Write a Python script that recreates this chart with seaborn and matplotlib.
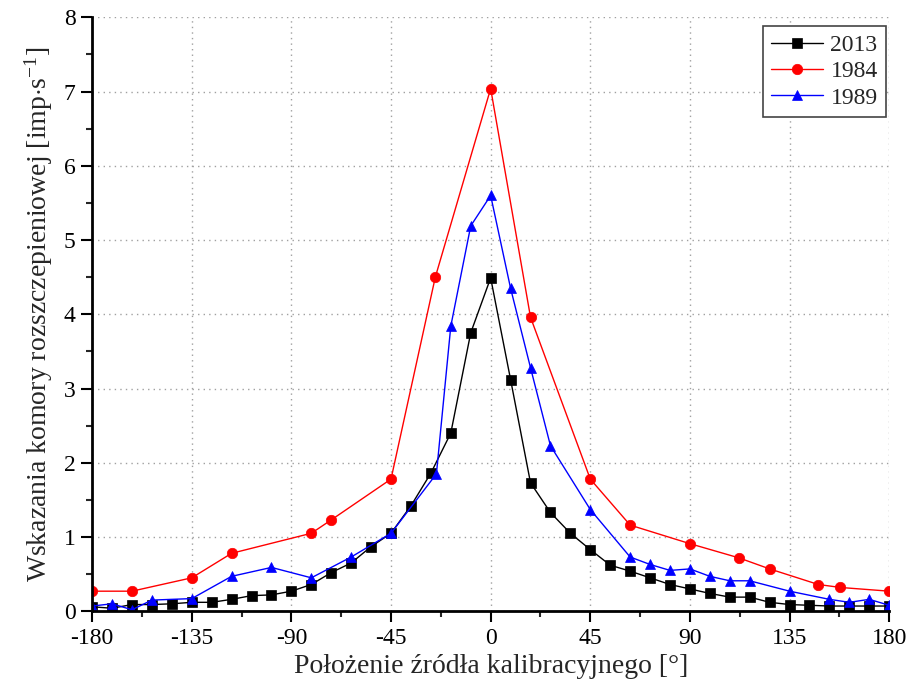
import numpy as np
import pandas as pd
import matplotlib
matplotlib.use("Agg")
import matplotlib.pyplot as plt
from matplotlib.ticker import MultipleLocator
import seaborn as sns

# ---- data ----
x_2013 = [-180, -171, -162, -153, -144, -135, -126, -117, -108, -99, -90, -81, -72, -63, -54,
          -45, -36, -27, -18, -9, 0, 9, 18, 27, 36, 45, 54, 63, 72, 81, 90, 99, 108, 117,
          126, 135, 144, 153, 162, 171, 180]
y_2013 = [0.06, 0.04, 0.09, 0.09, 0.10, 0.12, 0.12, 0.16, 0.21, 0.22, 0.27, 0.36, 0.52, 0.65, 0.87,
          1.05, 1.42, 1.86, 2.40, 3.75, 4.49, 3.12, 1.73, 1.33, 1.05, 0.83, 0.62, 0.54, 0.45, 0.36,
          0.30, 0.24, 0.19, 0.19, 0.12, 0.09, 0.08, 0.07, 0.07, 0.07, 0.07]

x_1984 = [-180, -162, -135, -117, -81, -72, -45, -25, 0, 18, 45, 63, 90, 112, 126, 148, 158, 180]
y_1984 = [0.27, 0.27, 0.45, 0.78, 1.05, 1.23, 1.78, 4.50, 7.04, 3.96, 1.78, 1.16, 0.91, 0.72,
          0.57, 0.36, 0.32, 0.27]

x_1989 = [-180, -171, -162, -153, -135, -117, -99, -81, -63, -45, -24.5, -18, -9, 0, 9, 18, 27,
          45, 63, 72, 81, 90, 99, 108, 117, 135, 153, 162, 171, 180]
y_1989 = [0.07, 0.10, 0.02, 0.15, 0.17, 0.47, 0.59, 0.45, 0.73, 1.05, 1.85, 3.84, 5.19, 5.60,
          4.35, 3.28, 2.23, 1.37, 0.73, 0.63, 0.55, 0.57, 0.47, 0.41, 0.41, 0.27, 0.16, 0.12,
          0.16, 0.08]

series_names = ["2013", "1984", "1989"]
x_ticks = [-180, -135, -90, -45, 0, 45, 90, 135, 180]
y_ticks = [0, 1, 2, 3, 4, 5, 6, 7, 8]

xlabel = "Położenie źródła kalibracyjnego [°]"
ylabel = r"Wskazania komory rozszczepieniowej [imp$\cdot$s$^{\mathregular{-1}}$]"

# ---- style ----
sns.set_style("white")
plt.rcParams["font.family"] = ["Liberation Serif", "DejaVu Serif"]
plt.rcParams["mathtext.fontset"] = "custom"
plt.rcParams["mathtext.rm"] = "Liberation Serif"
plt.rcParams["mathtext.it"] = "Liberation Serif:italic"
plt.rcParams["mathtext.bf"] = "Liberation Serif:bold"

fig = plt.figure(figsize=(9.12, 6.93), dpi=100)
ax = fig.add_axes([0.101, 0.118, 0.874, 0.857])

styles = {
    "2013": dict(color="black", marker="s", ms=6.5),
    "1984": dict(color="#ff0000", marker="o", ms=7.5),
    "1989": dict(color="#0000ff", marker="^", ms=7.5),
}
data = {"2013": (x_2013, y_2013), "1984": (x_1984, y_1984), "1989": (x_1989, y_1989)}

for name in series_names:
    xs, ys = data[name]
    df = pd.DataFrame({"x": xs, "y": ys})
    st = styles[name]
    sns.lineplot(data=df, x="x", y="y", ax=ax, color=st["color"], marker=st["marker"],
                 markersize=st["ms"], markeredgecolor=st["color"], markeredgewidth=0.5,
                 linewidth=1.0, label=name, estimator=None, sort=True)

ax.set_xlim(-180, 180)
ax.set_ylim(0, 8)
ax.set_xticks(x_ticks)
ax.set_yticks(y_ticks)
ax.set_xticklabels([str(t) for t in x_ticks])
ax.set_yticklabels([str(t) for t in y_ticks])
ax.xaxis.set_minor_locator(MultipleLocator(22.5))
ax.yaxis.set_minor_locator(MultipleLocator(0.5))
ax.tick_params(axis="both", which="major", direction="out", length=8, width=1.5,
               labelsize=17, colors="black", pad=4)
ax.tick_params(axis="both", which="minor", direction="out", length=4, width=1.5)
ax.tick_params(axis="both", which="both", bottom=True, left=True, top=False, right=False)

ax.grid(True, which="major", color="#a0a0a0", linestyle=(0, (1, 3)), linewidth=1.0)
ax.set_axisbelow(True)

for side in ["top", "right"]:
    ax.spines[side].set_visible(False)
for side in ["left", "bottom"]:
    ax.spines[side].set_color("black")
    ax.spines[side].set_linewidth(2.0)

ax.set_xlabel(xlabel, fontsize=20, labelpad=4)
ax.set_ylabel(ylabel, fontsize=20, labelpad=6)

leg = ax.legend(loc="upper right", fontsize=17, frameon=True, fancybox=False,
                edgecolor="#444444", framealpha=1, borderpad=0.35, handlelength=2.2,
                handletextpad=0.3, labelspacing=0.2, borderaxespad=0,
                bbox_to_anchor=(0.996, 0.985))
leg.get_frame().set_linewidth(1.2)

fig.savefig("out.png", dpi=100)
